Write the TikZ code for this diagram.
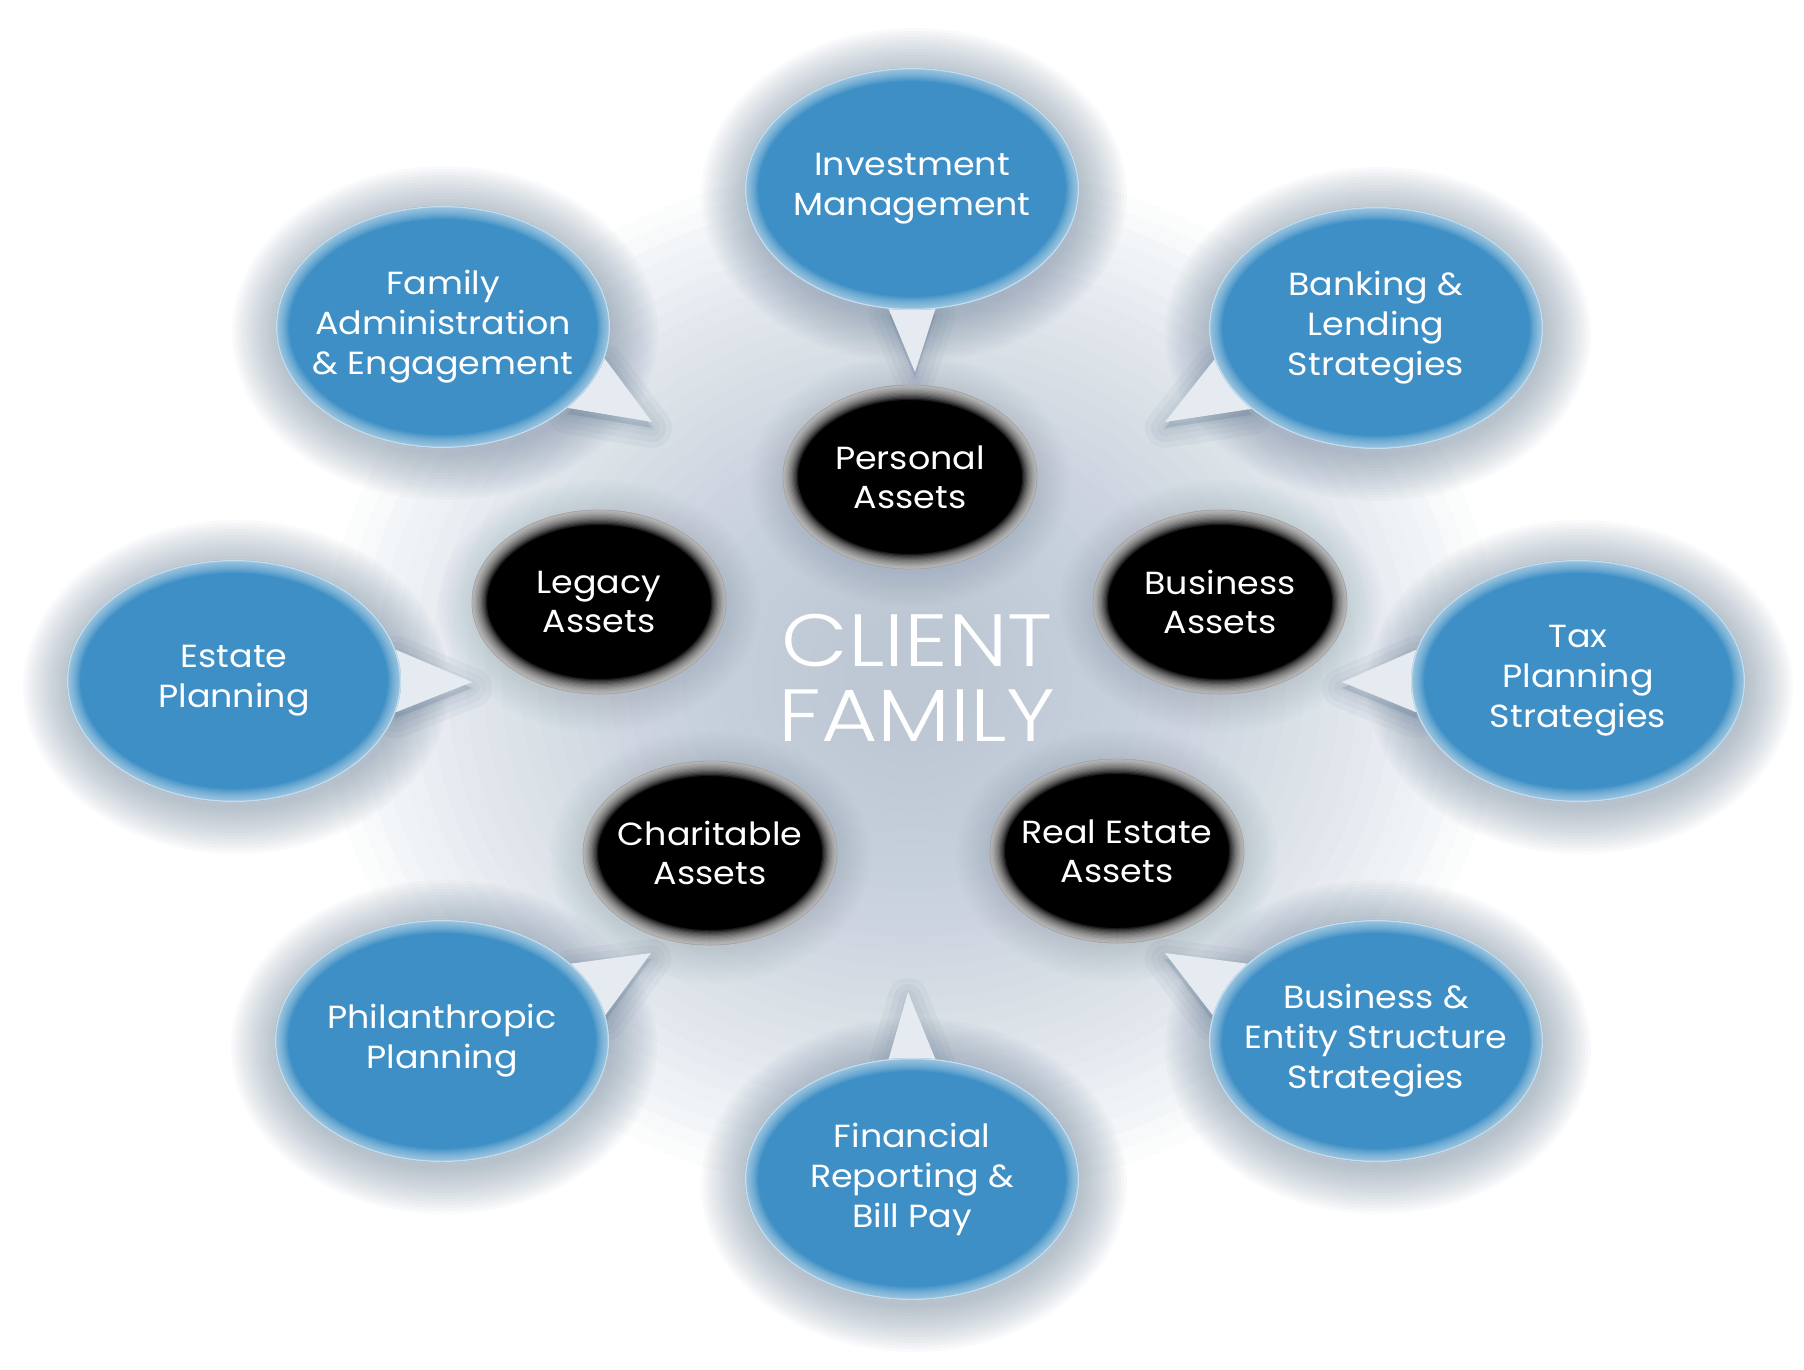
\documentclass[tikz,border=0pt]{standalone}
\usepackage{fontspec}
\setmainfont{Poppins}[FakeStretch=1.09]
\IfFontExistsTF{Poppins Light}{\newfontfamily\lightfont{Poppins Light}[FakeStretch=1.17]}{\newfontfamily\lightfont{Poppins}[FakeStretch=1.17]}
\usetikzlibrary{shapes.geometric,calc}
\definecolor{bubbleblue}{HTML}{3D8FC5}
\definecolor{rimblue}{HTML}{E2EFF8}
\definecolor{shadowc}{HTML}{6A8099}
\definecolor{glowc}{HTML}{AFBED0}
\definecolor{tailc}{HTML}{E6EBF1}
\pgfdeclarelayer{glowlayer}
\pgfdeclarelayer{shadowlayer}
\pgfdeclarelayer{taillayer}
\pgfsetlayers{glowlayer,shadowlayer,taillayer,main}
\tikzset{
  bubble/.style={ellipse, minimum width=334pt, minimum height=242pt, inner xsep=-80pt, inner ysep=-40pt,
    fill=bubbleblue, text=white, align=center, font=\fontsize{32}{40}\selectfont,
    path picture={\foreach \k in {1,...,12}
      {\draw[rimblue, line width=2.2*\k pt, opacity=0.07] (path picture bounding box.center) ellipse [x radius=167, y radius=121];}
      \draw[rimblue, line width=2.5pt, opacity=0.6] (path picture bounding box.center) ellipse [x radius=167, y radius=121];}},
  asset/.style={ellipse, minimum width=254pt, minimum height=184pt, inner xsep=-60pt, inner ysep=-30pt,
    fill=black, draw=black!35, line width=0.8pt, text=white, align=center,
    font=\fontsize{32}{39}\selectfont,
    path picture={\foreach \k in {1,...,12}
      {\draw[white, line width=2.5*\k pt, opacity=0.1] (path picture bounding box.center) ellipse [x radius=127, y radius=92];}}},
  centertext/.style={text=white, align=center, font=\lightfont\fontsize{74}{75}\selectfont, inner sep=0pt},
  tailfill/.style={fill=tailc},
  tailshadow/.style={fill=shadowc, draw=shadowc, opacity=0.07, line join=round},
}
\newcommand\bubtail[3]{%
  \pgfmathtruncatemacro\angA{#2+11}%
  \pgfmathtruncatemacro\angB{#2-11}%
  \begin{pgfonlayer}{shadowlayer}
    \foreach \w in {40,28,16,6}{\filldraw[tailshadow, line width=\w pt] ($(#1.\angA)+(0,6)$) -- ($(#3)+(0,6)$) -- ($(#1.\angB)+(0,6)$) -- cycle;}
  \end{pgfonlayer}
  \begin{pgfonlayer}{taillayer}
    \fill[tailfill] (#1.\angA) -- (#3) -- (#1.\angB) -- cycle;
  \end{pgfonlayer}}
\newcommand\bubshadow[1]{%
  \begin{pgfonlayer}{shadowlayer}
    \foreach \i in {1,...,16}{\fill[shadowc, opacity=0.035] ($(#1)+(2,6)$) ellipse [x radius={165+3*\i}, y radius={119+3*\i}];}
  \end{pgfonlayer}}
\newcommand\assetshadow[1]{%
  \begin{pgfonlayer}{shadowlayer}
    \foreach \i in {1,...,12}{\fill[shadowc, opacity=0.02] ($(#1)+(0,4)$) ellipse [x radius={125+3*\i}, y radius={90+3*\i}];}
  \end{pgfonlayer}}
\begin{document}
\begin{tikzpicture}[x=1pt,y=-1pt]
\begin{pgfonlayer}{glowlayer}
  \fill[white] (0,0) rectangle (1804,1370);
  \foreach \i in {0,...,29}{\fill[glowc, opacity=0.045] (912,680) ellipse [x radius={590-18*\i}, y radius={520-15.5*\i}];}
\end{pgfonlayer}
\useasboundingbox (0,0) rectangle (1804,1370);

% asset ellipses
\node[asset] (personal) at (910,477) {Personal\\Assets};
\node[asset] (legacy) at (599,602) {Legacy\\Assets};
\node[asset] (business) at (1220,602) {Business\\Assets};
\node[asset] (charitable) at (710,853) {Charitable\\Assets};
\node[asset] (realestate) at (1117,851) {Real Estate\\Assets};

% service bubbles
\node[bubble] (inv) at (912,189) {Investment\\Management};
\node[bubble] (fam) at (443,327) {Family\\Administration\\\& Engagement};
\node[bubble] (bank) at (1376,328) {Banking \&\\Lending\\Strategies};
\node[bubble] (est) at (234,681) {Estate\\Planning};
\node[bubble] (tax) at (1578,681) {Tax\\Planning\\Strategies};
\node[bubble] (phil) at (442,1041) {Philanthropic\\Planning};
\node[bubble] (fin) at (912,1179) {Financial\\Reporting \&\\Bill Pay};
\node[bubble] (bus) at (1376,1041) {Business \&\\Entity Structure\\Strategies};

\node[centertext] (client) at (917,678) {CLIENT\\FAMILY};

% tail tips
\coordinate (invtip) at (915,372);
\coordinate (famtip) at (652,422);
\coordinate (banktip) at (1165,422);
\coordinate (esttip) at (472,682);
\coordinate (taxtip) at (1342,682);
\coordinate (philtip) at (651,953);
\coordinate (fintip) at (908,992);
\coordinate (bustip) at (1165,953);

\bubtail{inv}{-90}{invtip}
\bubtail{fam}{-22}{famtip}
\bubtail{bank}{202}{banktip}
\bubtail{est}{0}{esttip}
\bubtail{tax}{180}{taxtip}
\bubtail{phil}{20}{philtip}
\bubtail{fin}{90}{fintip}
\bubtail{bus}{160}{bustip}

\foreach \b in {inv,fam,bank,est,tax,phil,fin,bus}{\bubshadow{\b}}
\foreach \a in {personal,legacy,business,charitable,realestate}{\assetshadow{\a}}
\end{tikzpicture}
\end{document}
